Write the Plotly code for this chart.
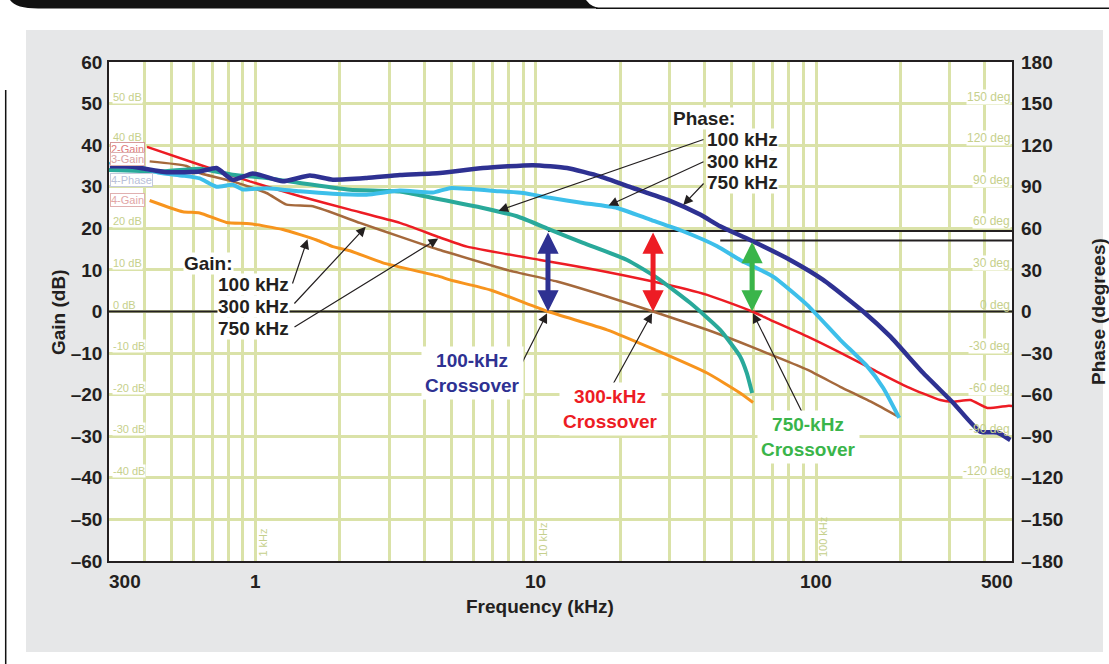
import numpy as np
import plotly.graph_objects as go

# ---------------- data (frequency in kHz) ----------------
# Gain curves (dB)
gain100_f = [0.419, 0.55, 0.632, 0.788, 0.954, 1.251, 1.651, 1.887, 2.17, 2.847, 4.548, 4.937,
             6.861, 11.05, 17.95, 26.2, 40.85, 53.56, 59.6]
gain100_db = [26.7, 24.0, 23.7, 21.4, 21.1, 19.7, 17.2, 15.6, 14.6, 11.7, 8.4, 7.6,
              5.2, 0.0, -4.4, -9.0, -14.8, -19.6, -21.9]

gain300_f = [0.419, 0.567, 0.632, 0.829, 1.094, 1.29, 1.601, 2.356, 3.273, 4.294, 4.548, 7.889,
             11.9, 17.95, 26.2, 40.85, 53.56, 70.26, 92.93, 121.9, 159.9, 196.3]
gain300_db = [36.1, 35.0, 33.3, 31.3, 28.5, 25.7, 25.3, 21.3, 18.0, 15.3, 14.8, 10.0,
              7.2, 3.6, 0.0, -4.4, -7.4, -10.6, -14.0, -18.1, -22.0, -25.3]

gain750_f = [0.41, 0.632, 0.954, 1.439, 2.17, 3.273, 4.548, 5.678, 10.35, 15.61, 26.2, 40.85,
             59.12, 68.55, 92.93, 121.9, 159.9, 211.4, 277.3, 308.7, 354.9, 408.1, 481.0, 500.0]
gain750_db = [39.6, 35.3, 31.3, 27.7, 24.5, 21.3, 17.8, 15.6, 12.4, 10.3, 7.2, 4.0,
              0.0, -2.0, -6.0, -9.9, -14.0, -18.1, -21.3, -21.7, -21.3, -23.2, -22.7, -22.7]

# Phase curves (degrees)
phase100_f = [0.30, 0.455, 0.632, 0.829, 1.094, 1.439, 2.17, 3.273, 4.294, 6.477, 8.566, 11.23,
              14.74, 21.16, 27.07, 35.51, 45.46, 53.56, 56.6, 59.12]
phase100_deg = [102, 101, 103, 98.7, 96.3, 92.7, 87.9, 86.5, 81.9, 74.7, 68.7, 59.1,
                49.5, 37.2, 24.3, 6.3, -13.2, -32.4, -44.4, -58.8]

phase300_f = [0.302, 0.32, 0.364, 0.419, 0.455, 0.55, 0.632, 0.725, 0.829, 0.9, 1.094, 1.439,
              1.887, 2.49, 3.273, 4.294, 4.937, 7.447, 8.999, 11.23, 14.74, 19.49, 25.56, 33.52,
              44.36, 53.56, 70.26, 92.93, 121.9, 152.2, 173.6, 198.0]
phase300_deg = [106, 110, 106, 102, 100, 98, 96, 90, 91.5, 88, 89, 86.7,
                85, 84.3, 87.3, 85.8, 89, 86.7, 85.5, 82, 78.3, 74.7, 66.3, 57.9,
                47.1, 37.2, 25.2, 4.8, -20.4, -39.6, -55.2, -76.8]

phase750_f = [0.302, 0.364, 0.482, 0.632, 0.725, 0.829, 0.978, 1.251, 1.562, 1.887, 2.49, 3.273,
              4.548, 6.477, 9.768, 12.92, 16.94, 22.23, 29.39, 38.57, 45.46, 58.17, 80.8, 106.0,
              147.2, 183.8, 241.2, 308.7, 385.3, 443.1, 493.1]
phase750_deg = [104.7, 104.4, 100.5, 101, 103.5, 95, 99.6, 93.9, 98.1, 95.1, 96.3, 98.4,
                99.9, 103.5, 105.6, 103.5, 97.5, 89.1, 80.7, 69.9, 61.5, 51.6, 37.2, 22.8,
                0, -18, -44.4, -66, -86.7, -87.3, -92.7]

# Crossovers and phase-margin marker lines
crossover_f = [11.05, 26.2, 59.1]
crossover_pm_deg = [58.0, 58.0, 51.2]
pm_line_start_f = [11.05, 45.5]
pm_line_deg = [58.0, 51.2]

# Axis ticks
x_tick_vals = [0.3, 1, 10, 100, 500]
x_tick_text = ["300", "1", "10", "100", "500"]
x_grid_vals = [0.4, 0.5, 0.6, 0.7, 0.8, 0.9, 1, 2, 3, 4, 5, 6, 7, 8, 9, 10,
               20, 30, 40, 50, 60, 70, 80, 90, 100, 200, 300, 400]
gain_ticks = list(range(-60, 61, 10))
gain_tick_text = [("\u2013" + str(-v)) if v < 0 else str(v) for v in gain_ticks]
phase_ticks = list(range(-180, 181, 30))
phase_tick_text = [("\u2013" + str(-v)) if v < 0 else str(v) for v in phase_ticks]
inner_db_labels = [50, 40, 20, 10, 0, -10, -20, -30, -40]
inner_deg_labels = [150, 120, 90, 60, 30, 0, -30, -60, -90, -120]
decade_labels_f = [1, 10, 100]
decade_labels_txt = ["1 kHz", "10 kHz", "100 kHz"]

# ---------------- colours / geometry ----------------
C_ORANGE = "#f7941d"
C_BROWN = "#a5693c"
C_RED = "#ed1c24"
C_TEAL = "#29a99a"
C_LBLUE = "#3dbfea"
C_DBLUE = "#2e3192"
C_GREEN = "#3ab54a"
C_GRID = "#dae2a8"
C_FAINT = "#c6d08c"
C_INK = "#231f20"
FONT = "Liberation Sans, Arial, sans-serif"

W, H = 1109, 664
PL, PR, PT, PB = 109, 1012, 62, 561
LOG_LO, LOG_HI = np.log10(0.3), np.log10(500)


def xp(x):
    return (x - PL) / (PR - PL)


def yp(y):
    return (PB - y) / (PB - PT)


def px2logf(x):
    return LOG_LO + (x - PL) / (PR - PL) * (LOG_HI - LOG_LO)


def py2db(y):
    return 60 - (y - PT) / (PB - PT) * 120


def on_curve(f, fs, vals):
    return float(np.interp(np.log10(f), np.log10(fs), vals))


fig = go.Figure()

# reference lines
fig.add_trace(go.Scatter(x=[x_tick_vals[0], x_tick_vals[-1]], y=[0, 0], mode="lines",
                         line=dict(color=C_INK, width=2), hoverinfo="skip", showlegend=False))
for f0, d in zip(pm_line_start_f, pm_line_deg):
    fig.add_trace(go.Scatter(x=[f0, x_tick_vals[-1]], y=[d, d], yaxis="y2", mode="lines",
                             line=dict(color=C_INK, width=2), hoverinfo="skip", showlegend=False))

# gain curves
for fs, vs, col, w in [(gain100_f, gain100_db, C_ORANGE, 3),
                       (gain300_f, gain300_db, C_BROWN, 2.5),
                       (gain750_f, gain750_db, C_RED, 2.5)]:
    fig.add_trace(go.Scatter(x=fs, y=vs, mode="lines", showlegend=False,
                             line=dict(color=col, width=w, shape="spline", smoothing=0.5)))
# phase curves
for fs, vs, col, w in [(phase100_f, phase100_deg, C_TEAL, 4),
                       (phase300_f, phase300_deg, C_LBLUE, 4),
                       (phase750_f, phase750_deg, C_DBLUE, 4.5)]:
    fig.add_trace(go.Scatter(x=fs, y=vs, yaxis="y2", mode="lines", showlegend=False,
                             line=dict(color=col, width=w, shape="spline", smoothing=0.5)))

ann = []


def text_ann(**kw):
    d = dict(showarrow=False, xanchor="center", yanchor="middle")
    d.update(kw)
    return d


# x tick labels
shifts = [16, 0, 0, 0, -15]
for v, t, s in zip(x_tick_vals, x_tick_text, shifts):
    ann.append(text_ann(x=np.log10(v), y=yp(581), xref="x", yref="paper", text=t, xshift=s,
                        font=dict(family=FONT, size=19, color=C_INK, weight="bold")))

# axis titles
ann.append(text_ann(x=xp(58), y=yp(312), xref="paper", yref="paper", text="Gain (dB)",
                    textangle=-90, font=dict(family=FONT, size=19, color=C_INK, weight="bold")))
ann.append(text_ann(x=xp(1098), y=yp(312), xref="paper", yref="paper", text="Phase (degrees)",
                    textangle=-90, font=dict(family=FONT, size=19, color=C_INK, weight="bold")))
ann.append(text_ann(x=xp(540), y=yp(606), xref="paper", yref="paper", text="Frequency (kHz)",
                    font=dict(family=FONT, size=19, color=C_INK, weight="bold")))

# faint instrument labels
CLEAR = "rgba(0,0,0,0)"
for v in inner_db_labels:
    ann.append(text_ann(x=xp(112), y=v, xref="paper", yref="y", yshift=7 + (1 if v == 40 else 0),
                        xanchor="left", text=f"{v} dB",
                        bgcolor=CLEAR if v == 0 else "white", borderpad=0,
                        font=dict(family=FONT, size=11, color=C_FAINT)))
for v in inner_deg_labels:
    ann.append(text_ann(x=xp(1011), y=v, xref="paper", yref="y2", yshift=7, xanchor="right",
                        text=f"{v} deg", bgcolor=CLEAR if v in (0, -90) else "white",
                        borderpad=0, font=dict(family=FONT, size=12, color=C_FAINT)))
for f, t in zip(decade_labels_f, decade_labels_txt):
    ann.append(text_ann(x=np.log10(f), y=yp(559), xref="x", yref="paper", xshift=7,
                        yanchor="bottom", text=t, textangle=-90,
                        font=dict(family=FONT, size=11, color=C_FAINT)))

# faint legend boxes
for txt, yy, col, bc in [("2-Gain", 148.5, "#e07c7c", "#d69a9a"),
                         ("3-Gain", 159, "#dca2a2", "#ddb0b0"),
                         ("4-Phase", 180, "#b9bfd8", "#c4c9dc"),
                         ("4-Gain", 200, "#e2a6a6", "#e0b0b0")]:
    ann.append(text_ann(x=xp(110), y=yp(yy), xref="paper", yref="paper", xanchor="left",
                        text=txt, bgcolor="white", bordercolor=bc, borderwidth=1,
                        borderpad=0, font=dict(family=FONT, size=11, color=col)))

# double-headed crossover arrows
for f, pm, col in zip(crossover_f, crossover_pm_deg, [C_DBLUE, C_RED, C_GREEN]):
    ann.append(dict(x=np.log10(f), y=0, xref="x", yref="y2", ax=np.log10(f), ay=pm, axref="x",
                    ayref="y2", text="", showarrow=True, arrowhead=2, arrowsize=0.85,
                    startarrowhead=2, startarrowsize=0.85, arrowside="end+start",
                    arrowwidth=5, arrowcolor=col))


# thin black pointer arrows
def pointer(f, val, yref, tail_px, tail_py, scale=1.0):
    tail_val = py2db(tail_py) * scale
    return dict(x=np.log10(f), y=val, xref="x", yref=yref, ax=px2logf(tail_px), ay=tail_val,
                axref="x", ayref=yref, text="", showarrow=True, arrowhead=2, arrowsize=1.6,
                arrowwidth=1.2, arrowcolor=C_INK, standoff=2)


# phase labels
ann.append(pointer(7.25, on_curve(7.25, phase100_f, phase100_deg), "y2", 705, 139, 3))
ann.append(pointer(17.9, on_curve(17.9, phase300_f, phase300_deg), "y2", 705, 161, 3))
ann.append(pointer(33.2, on_curve(33.2, phase750_f, phase750_deg), "y2", 705, 182, 3))
# gain labels
ann.append(pointer(1.54, on_curve(1.54, gain100_f, gain100_db), "y", 292, 285))
ann.append(pointer(2.5, on_curve(2.5, gain300_f, gain300_db), "y", 293, 305))
ann.append(pointer(4.55, on_curve(4.55, gain750_f, gain750_db), "y", 293, 328))
# crossover labels
ann.append(pointer(crossover_f[0], 0, "y", 520, 367))
ann.append(pointer(crossover_f[1], 0, "y", 612, 386))
ann.append(pointer(crossover_f[2], 0, "y", 803, 414))

bold19 = dict(family=FONT, size=19, color=C_INK, weight="bold")
for txt, x, y in [("Phase:", 672, 118), ("100 kHz", 706, 139), ("300 kHz", 706, 161),
                  ("750 kHz", 706, 182), ("Gain:", 183, 263), ("100 kHz", 217, 284),
                  ("300 kHz", 217, 306), ("750 kHz", 217, 328)]:
    ann.append(text_ann(x=xp(x), y=yp(y), xref="paper", yref="paper", xanchor="left", text=txt,
                        bgcolor="white", borderpad=0, font=bold19))

for txt, x, y, col in [("100-kHz<br>Crossover", 472, 373, C_DBLUE),
                       ("300-kHz<br>Crossover", 610, 409, C_RED),
                       ("750-kHz<br>Crossover", 808, 437, C_GREEN)]:
    ann.append(text_ann(x=xp(x), y=yp(y), xref="paper", yref="paper", text=txt,
                        bgcolor="white", borderpad=3,
                        font=dict(family=FONT, size=19, color=col, weight="bold")))

# page decoration shapes
shapes = []
for (x0, y0, x1, y1) in [(0, 0, W, 30), (0, 0, 26, H), (1103, 0, W, H), (0, 652, W, H)]:
    shapes.append(dict(type="rect", xref="paper", yref="paper", x0=xp(x0), x1=xp(x1),
                       y0=yp(y0), y1=yp(y1), fillcolor="white", line=dict(width=0), layer="below"))
path = (f"M{xp(10)},{yp(0)} L{xp(586)},{yp(0)} Q{xp(592)},{yp(8.5)} {xp(604)},{yp(8.5)} "
        f"L{xp(38)},{yp(8.5)} Q{xp(16)},{yp(8.5)} {xp(10)},{yp(0)} Z")
shapes.append(dict(type="path", xref="paper", yref="paper", path=path, fillcolor="#111111",
                   line=dict(width=0)))
shapes.append(dict(type="line", xref="paper", yref="paper", x0=xp(596), x1=xp(W), y0=yp(8.3),
                   y1=yp(8.3), line=dict(color="#111111", width=1.5)))
shapes.append(dict(type="line", xref="paper", yref="paper", x0=xp(5.7), x1=xp(5.7), y0=yp(90),
                   y1=yp(H), line=dict(color="#111111", width=1.5)))

fig.update_layout(
    width=W, height=H,
    margin=dict(l=PL, r=W - PR, t=PT, b=H - PB, autoexpand=False),
    paper_bgcolor="#e6e7e8", plot_bgcolor="white",
    showlegend=False,
    xaxis=dict(type="log", range=[LOG_LO, LOG_HI], tickvals=x_grid_vals, showticklabels=False,
               showgrid=True, gridcolor=C_GRID, gridwidth=2.5, ticks="", zeroline=False,
               showline=True, mirror=True, linecolor=C_INK, linewidth=1.5),
    yaxis=dict(range=[-60, 60], tickvals=gain_ticks, ticktext=gain_tick_text, showgrid=True,
               gridcolor=C_GRID, gridwidth=3, ticks="", zeroline=False, showline=True,
               mirror=True, linecolor=C_INK, linewidth=1.5, ticklabelstandoff=1,
               tickfont=dict(family=FONT, size=19, color=C_INK, weight="bold")),
    yaxis2=dict(range=[-180, 180], overlaying="y", side="right", tickvals=phase_ticks,
                ticktext=phase_tick_text, showgrid=False, ticks="", zeroline=False,
                ticklabelstandoff=8,
                tickfont=dict(family=FONT, size=19, color=C_INK, weight="bold")),
    annotations=ann,
    shapes=shapes,
)

fig.write_html("out.html", config={"displayModeBar": False},
               post_script="document.body.style.margin='0';document.body.style.overflow='hidden';")
